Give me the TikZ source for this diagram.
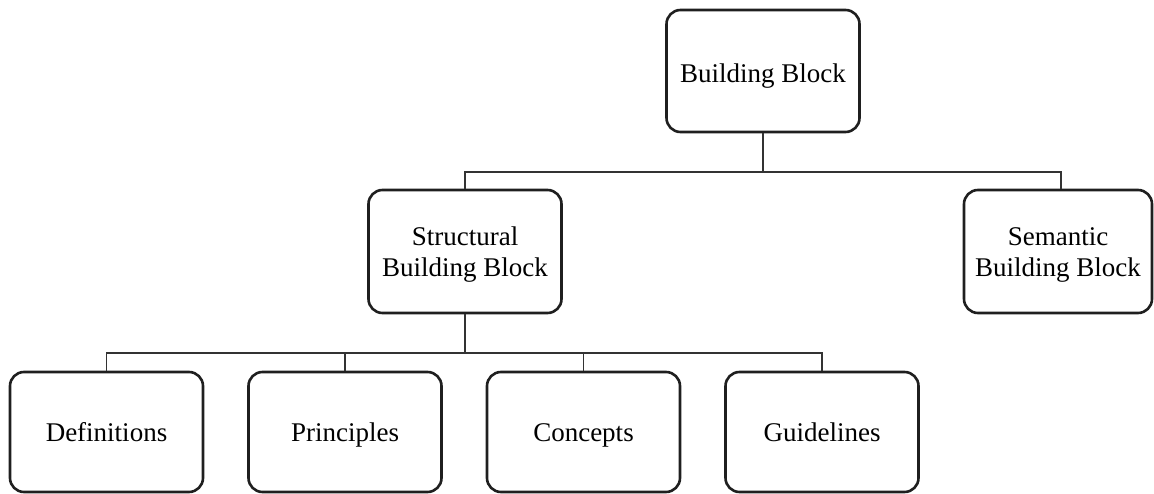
\documentclass[tikz,border=0pt]{standalone}
\usepackage{fontspec}
\setmainfont{Liberation Serif}
\begin{document}
\begin{tikzpicture}[x=1pt,y=-1pt,
  blk/.style={draw=black!88, line width=2.6pt, rounded corners=14pt, align=center,
    minimum width=193pt, minimum height=122pt, inner sep=0pt,
    font=\fontsize{27}{31}\selectfont},
  one/.style={text height=18pt, text depth=0pt},
  lbl/.style={align=center, inner sep=0pt, font=\fontsize{27}{31}\selectfont},
  conn/.style={draw=black!80, line width=1.4pt}]
\useasboundingbox (0,0) rectangle (1154,494);
\node[blk] (bb) at (763,71) {};
\node[lbl, one] (bbt) at (763,74) {Building Block};
\node[blk, minimum height=123pt] (str) at (465,251.5) {};
\node[lbl] (strt) at (465,255) {Structural\\Building Block};
\node[blk, minimum width=188pt, minimum height=123pt] (sem) at (1058,251.5) {};
\node[lbl] (semt) at (1058,255) {Semantic\\Building Block};
\node[blk, one, minimum height=120pt] (def) at (106.5,432) {Definitions};
\node[blk, one, minimum height=120pt] (pri) at (345,432) {Principles};
\node[blk, one, minimum height=120pt] (con) at (583.5,432) {Concepts};
\node[blk, one, minimum height=120pt] (gui) at (822,432) {Guidelines};
\coordinate (j1) at (763,172);
\coordinate (j2) at (465,353);
\draw[conn] (bb.south) -- (j1);
\draw[conn] (j1) -| (str.north);
\draw[conn] (j1) -| ([xshift=3pt]sem.north);
\draw[conn] (str.south) -- (j2);
\draw[conn] (j2) -| (def.north);
\draw[conn] (j2) -| (pri.north);
\draw[conn] (j2) -| (con.north);
\draw[conn] (j2) -| (gui.north);
\end{tikzpicture}
\end{document}
